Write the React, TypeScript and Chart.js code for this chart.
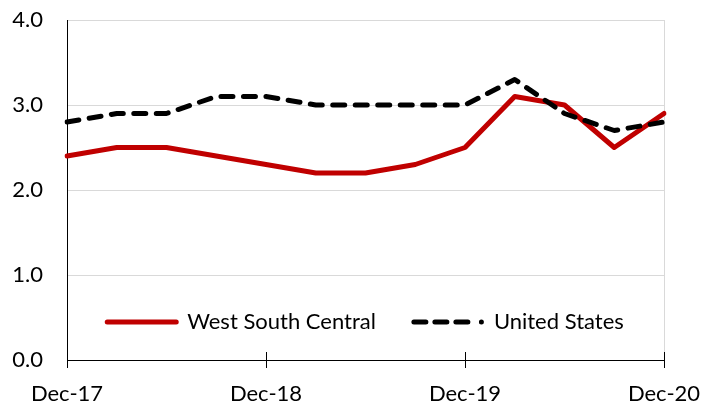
import React, { useEffect, useRef } from 'react';
import { Chart, registerables } from 'chart.js';

Chart.register(...registerables);

const categories = ['Dec-17', 'Mar-18', 'Jun-18', 'Sep-18', 'Dec-18', 'Mar-19', 'Jun-19', 'Sep-19', 'Dec-19', 'Mar-20', 'Jun-20', 'Sep-20', 'Dec-20'];
const westSouthCentral = [2.4, 2.5, 2.5, 2.4, 2.3, 2.2, 2.2, 2.3, 2.5, 3.1, 3.0, 2.5, 2.9];
const unitedStates = [2.8, 2.9, 2.9, 3.1, 3.1, 3.0, 3.0, 3.0, 3.0, 3.3, 2.9, 2.7, 2.8];
const yTicks = [0, 1, 2, 3, 4];
const seriesNames = ['West South Central', 'United States'];
const labelEvery = 4;

const FONT_SIZE = 22;
const FONT = { family: 'Lato', size: FONT_SIZE };
const LEGEND_PAD = 38;
const LEGEND_BOX = 69;
const LINE_DASH = [12, 10.5];
const LEGEND_DASH = [12, 9, 12, 9, 12, 13.5, 0.01, 200];

const legendPlacer = {
  id: 'legendPlacer',
  afterLayout(chart: any) {
    const lg = chart.legend;
    const ca = chart.chartArea;
    if (!lg || !ca) return;
    const cx = (ca.left + ca.right) / 2;
    lg.left = cx - 400;
    lg.right = cx + 400;
    lg.width = 800;
    const centerY = ca.bottom - 38;
    lg.top = centerY - LEGEND_PAD - FONT_SIZE / 2;
    lg.bottom = lg.top + 2 * LEGEND_PAD + FONT_SIZE + 10;
    lg.height = lg.bottom - lg.top;
  },
};

const innerTicks = {
  id: 'innerTicks',
  afterDraw(chart: any) {
    const xs = chart.scales.x;
    const ca = chart.chartArea;
    const ctx = chart.ctx;
    ctx.save();
    ctx.strokeStyle = '#000';
    ctx.lineWidth = 1;
    categories.forEach((_, i) => {
      if (i % labelEvery !== 0) return;
      const px = Math.round(xs.getPixelForValue(i)) + 0.5;
      ctx.beginPath();
      ctx.moveTo(px, ca.bottom - 8);
      ctx.lineTo(px, ca.bottom);
      ctx.stroke();
    });
    ctx.restore();
  },
};

export default function App() {
  const ref = useRef<HTMLCanvasElement | null>(null);

  useEffect(() => {
    document.body.style.margin = '0';
    const canvas = ref.current;
    if (!canvas) return;
    const chart = new Chart(canvas, {
      type: 'line',
      data: {
        labels: categories,
        datasets: [
          {
            label: seriesNames[0],
            data: westSouthCentral,
            borderColor: '#C00000',
            backgroundColor: '#C00000',
            borderWidth: 5,
            borderJoinStyle: 'round',
            borderCapStyle: 'round',
            pointRadius: 0,
            tension: 0,
            order: 1,
          },
          {
            label: seriesNames[1],
            data: unitedStates,
            borderColor: '#000000',
            backgroundColor: '#000000',
            borderWidth: 5,
            borderDash: LINE_DASH,
            borderJoinStyle: 'round',
            borderCapStyle: 'round',
            pointRadius: 0,
            tension: 0,
            order: 0,
          },
        ],
      },
      options: {
        animation: false,
        responsive: true,
        maintainAspectRatio: false,
        layout: { padding: { top: 20, right: 47, left: 0, bottom: 0 } },
        plugins: {
          tooltip: { enabled: false },
          legend: {
            display: true,
            position: 'bottom',
            maxHeight: 1,
            align: 'center',
            labels: {
              usePointStyle: true,
              pointStyleWidth: LEGEND_BOX,
              boxWidth: LEGEND_BOX,
              padding: LEGEND_PAD,
              font: FONT,
              color: '#000',
              generateLabels: (c: any) =>
                c.data.datasets.map((ds: any, i: number) => ({
                  text: ds.label,
                  fillStyle: 'rgba(0,0,0,0)',
                  strokeStyle: ds.borderColor,
                  lineWidth: ds.borderWidth,
                  lineDash: ds.borderDash ? LEGEND_DASH : [],
                  lineCap: 'round',
                  pointStyle: 'line',
                  datasetIndex: i,
                  hidden: false,
                  fontColor: '#000',
                })),
            },
          },
        },
        scales: {
          x: {
            type: 'category',
            offset: false,
            grid: {
              drawOnChartArea: true,
              color: (ctx: any) => (ctx.index === categories.length - 1 ? '#d9d9d9' : 'rgba(0,0,0,0)'),
              tickColor: (ctx: any) => (ctx.index % labelEvery === 0 ? '#000' : 'rgba(0,0,0,0)'),
              tickLength: 8,
              lineWidth: 1,
            },
            border: { color: '#000', width: 1 },
            ticks: {
              autoSkip: false,
              maxRotation: 0,
              minRotation: 0,
              padding: 13,
              font: FONT,
              color: '#000',
              callback: (_v: any, i: number) => (i % labelEvery === 0 ? categories[i] : ''),
            },
            afterFit: (s: any) => {
              s.height = 41;
              s.paddingLeft = 0;
              s.paddingRight = 0;
            },
          },
          y: {
            min: 0,
            max: 4,
            afterBuildTicks: (s: any) => {
              s.ticks = yTicks.map((v) => ({ value: v }));
            },
            grid: { color: '#d9d9d9', drawTicks: false, lineWidth: 1 },
            border: { color: '#000', width: 1 },
            ticks: {
              padding: 24,
              font: FONT,
              color: '#000',
              callback: (v: any) => Number(v).toFixed(1),
            },
            afterFit: (s: any) => {
              s.width = 67;
              s.paddingTop = 0;
              s.paddingBottom = 0;
            },
          },
        },
      },
      plugins: [legendPlacer, innerTicks],
    });
    return () => chart.destroy();
  }, []);

  return (
    <div style={{ width: 711, height: 402, position: 'relative' }}>
      <canvas ref={ref} />
    </div>
  );
}
